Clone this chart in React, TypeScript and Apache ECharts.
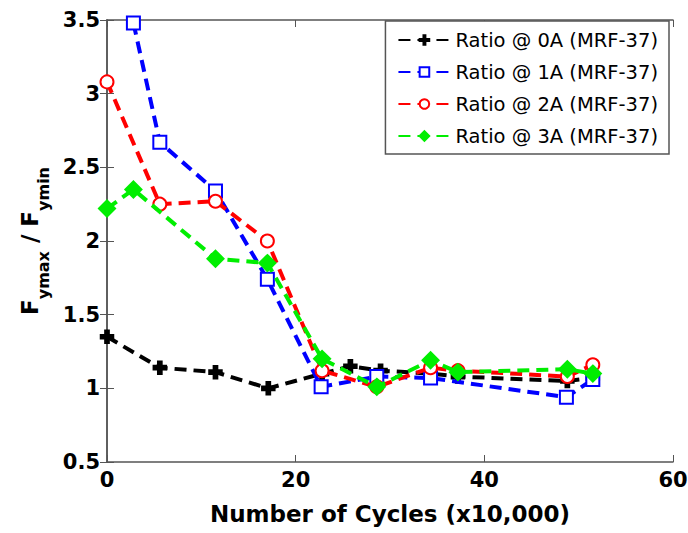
import React, { useEffect, useRef } from "react";
import * as echarts from "echarts";

const seriesNames = [
  "Ratio @ 0A (MRF-37)",
  "Ratio @ 1A (MRF-37)",
  "Ratio @ 2A (MRF-37)",
  "Ratio @ 3A (MRF-37)",
];

const ratio0A: [number, number][] = [
  [0, 1.35], [5.6, 1.14], [11.5, 1.11], [17.1, 1.0], [22.8, 1.1], [25.8, 1.15],
  [29, 1.12], [34.3, 1.1], [37.2, 1.08], [48.8, 1.05], [51.5, 1.07],
];
const ratio1A: [number, number][] = [
  [2.8, 3.48], [5.6, 2.67], [11.5, 2.34], [17, 1.74], [22.7, 1.01], [28.6, 1.08],
  [34.3, 1.07], [48.7, 0.94], [51.5, 1.06],
];
const ratio2A: [number, number][] = [
  [0, 3.08], [5.6, 2.25], [11.5, 2.27], [17, 2.0], [22.8, 1.12], [28.6, 1.01],
  [34.3, 1.14], [37.2, 1.12], [48.8, 1.08], [51.5, 1.16],
];
const ratio3A: [number, number][] = [
  [0, 2.22], [2.8, 2.35], [11.5, 1.88], [17, 1.85], [22.8, 1.2], [28.6, 1.01],
  [34.3, 1.19], [37.2, 1.11], [48.8, 1.13], [51.5, 1.1],
];

const xTicks = { min: 0, max: 60, interval: 20 };
const yTicks = { min: 0.5, max: 3.5, interval: 0.5 };

const colors = ["#000000", "#0000ff", "#ff0000", "#00ee00"];
const plusPath =
  "path://M4,0 L6,0 L6,4 L10,4 L10,6 L6,6 L6,10 L4,10 L4,6 L0,6 L0,4 L4,4 Z";
const symbols = [plusPath, "emptyRect", "emptyCircle", "diamond"];
const symbolSizes = [11, 13, 13, 14];
const allData = [ratio0A, ratio1A, ratio2A, ratio3A];

const FONT = "DejaVu Sans, Arial, sans-serif";

export default function App() {
  const ref = useRef<HTMLDivElement>(null);
  useEffect(() => {
    if (!ref.current) return;
    const chart = echarts.init(ref.current, undefined, { renderer: "svg" });
    const axisLine = { show: true, lineStyle: { color: "#555", width: 1.5 } };
    chart.setOption({
      animation: false,
      backgroundColor: "#ffffff",
      grid: { left: 107, right: 15, top: 20, bottom: 71, outerBoundsMode: "none", containLabel: false },
      legend: {
        orient: "vertical",
        right: 19,
        top: 21,
        data: seriesNames,
        backgroundColor: "#ffffff",
        borderColor: "#555",
        borderWidth: 1.5,
        borderRadius: 0,
        padding: [9, 11, 8, 12],
        itemWidth: 52,
        itemHeight: 12,
        itemGap: 12,
        textStyle: { fontFamily: FONT, fontSize: 19.5, color: "#000" },
      },
      xAxis: [
        {
          type: "value",
          min: xTicks.min,
          max: xTicks.max,
          interval: xTicks.interval,
          name: "Number of Cycles (x10,000)",
          nameLocation: "middle",
          nameGap: 40,
          nameTextStyle: { fontFamily: FONT, fontSize: 23, fontWeight: "bold", color: "#000" },
          axisLine,
          axisTick: { inside: true, length: 7, lineStyle: { color: "#555" } },
          axisLabel: { fontFamily: FONT, fontSize: 21, fontWeight: "bold", color: "#000", margin: 7 },
          splitLine: { show: false },
        },
        {
          type: "value",
          position: "top",
          min: xTicks.min,
          max: xTicks.max,
          interval: xTicks.interval,
          axisLine,
          axisTick: { inside: true, length: 7, lineStyle: { color: "#555" } },
          axisLabel: { show: false },
          splitLine: { show: false },
        },
      ],
      yAxis: [
        {
          type: "value",
          min: yTicks.min,
          max: yTicks.max,
          interval: yTicks.interval,
          name: "{b|F}{s|ymax}{b| / F}{s|ymin}",
          nameLocation: "middle",
          nameGap: 63,
          nameRotate: 90,
          nameTextStyle: {
            fontFamily: FONT,
            color: "#000",
            rich: {
              b: { fontFamily: FONT, fontSize: 23, fontWeight: "bold", color: "#000", verticalAlign: "bottom", lineHeight: 28 },
              s: { fontFamily: FONT, fontSize: 16, fontWeight: "bold", color: "#000", verticalAlign: "bottom", lineHeight: 20, padding: [0, 0, -10, 0] },
            },
          },
          axisLine,
          axisTick: { inside: true, length: 7, lineStyle: { color: "#555" } },
          axisLabel: { fontFamily: FONT, fontSize: 21, fontWeight: "bold", color: "#000", margin: 7 },
          splitLine: { show: false },
        },
        {
          type: "value",
          position: "right",
          min: yTicks.min,
          max: yTicks.max,
          interval: yTicks.interval,
          axisLine,
          axisTick: { inside: true, length: 7, lineStyle: { color: "#555" } },
          axisLabel: { show: false },
          splitLine: { show: false },
        },
      ],
      series: allData.map((d, i) => ({
        name: seriesNames[i],
        type: "line",
        xAxisIndex: 0,
        yAxisIndex: 0,
        data: d,
        symbol: symbols[i],
        symbolSize: symbolSizes[i],
        showAllSymbol: true,
        color: colors[i],
        lineStyle: { color: colors[i], width: 4, type: [12, 7] },
        itemStyle: { color: colors[i], borderColor: colors[i], borderWidth: 3.5 },
        z: 2 + i,
      })),
    });
    return () => chart.dispose();
  }, []);
  return (
    <div
      ref={ref}
      style={{ position: "absolute", left: 0, top: 0, width: 688, height: 533 }}
    />
  );
}
